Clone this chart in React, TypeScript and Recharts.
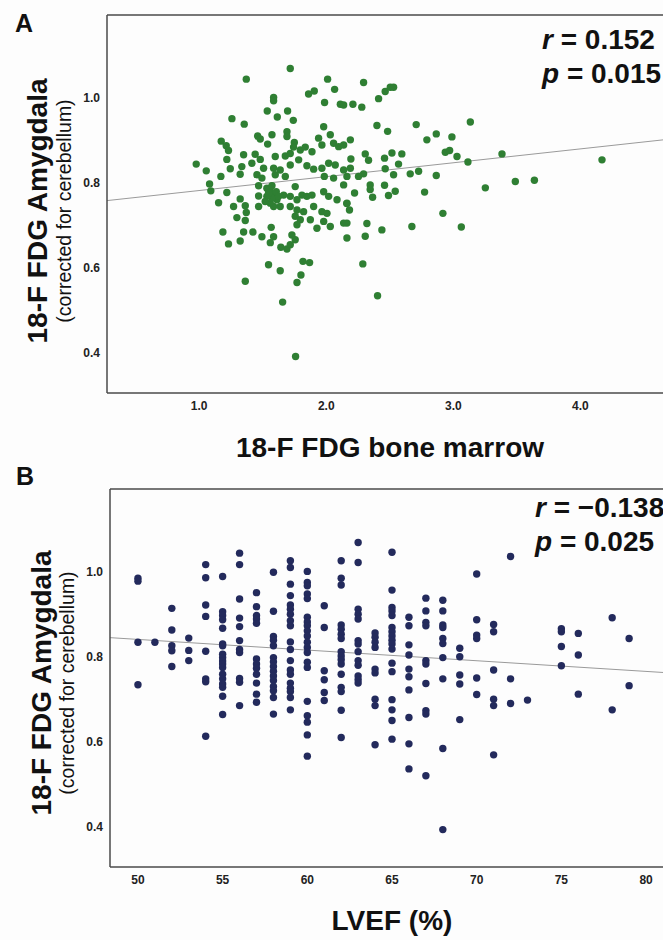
import React from "react";
import { ScatterChart, Scatter, XAxis, YAxis, ReferenceLine } from "recharts";

// ---------- Panel A data: 18-F FDG bone marrow (x) vs amygdala (y) ----------
const boneMarrowA: number[] = [
  1.717, 1.371, 2.011, 2.066, 1.861, 1.906, 1.586, 1.586, 1.987, 2.111, 2.137, 1.536, 1.696, 1.615, 1.741, 1.258,
  1.355, 1.691, 1.691, 1.573, 1.46, 1.481, 1.539, 1.174, 1.213, 1.231, 1.98, 1.94, 2.032, 1.966, 2.058, 2.098,
  2.137, 2.19, 1.749, 1.743, 1.796, 1.835, 1.888, 1.678, 1.717, 1.35, 1.441, 1.481, 1.599, 1.218, 0.977, 1.056,
  1.171, 1.245, 1.415, 1.336, 1.323, 1.507, 1.455, 1.494, 1.638, 1.586, 1.599, 1.678, 1.717, 1.783, 1.848, 1.901,
  1.966, 2.019, 2.071, 2.137, 2.19, 1.985, 2.058, 2.163, 1.082, 1.092, 1.218, 1.153, 1.323, 1.271, 1.363, 1.371,
  1.297, 1.363, 1.468, 1.468, 1.468, 1.533, 1.56, 1.586, 1.56, 1.612, 1.665, 1.638, 1.756, 1.717, 1.77, 1.809,
  1.848, 1.888, 1.717, 1.77, 1.822, 1.901, 1.98, 2.019, 2.085, 1.966, 2.006, 2.137, 2.163, 2.163, 2.163, 1.756,
  1.796, 1.77, 1.875, 1.927, 1.98, 2.032, 2.137, 1.187, 1.231, 1.323, 1.35, 1.423, 1.494, 1.567, 1.586, 1.56,
  1.643, 1.691, 1.73, 1.756, 1.717, 1.546, 1.638, 1.817, 1.869, 1.801, 1.77, 1.363, 1.657, 1.759,
  1.546, 1.573, 1.533, 1.607, 1.625, 1.52, 1.586, 1.546, 1.573,
  2.294, 2.464, 2.504, 2.53, 2.412, 2.21, 2.28, 2.399, 2.483, 2.708, 3.134, 2.792, 2.866, 2.989, 2.937, 2.971,
  3.029, 3.115, 3.383, 4.17, 2.307, 2.333, 2.194, 2.517, 2.595, 2.459, 2.464, 2.569, 2.53, 2.661, 2.727, 2.866,
  2.294, 2.254, 2.346, 2.346, 2.459, 2.543, 2.49, 2.365, 2.223, 2.774, 3.252, 3.488, 3.638, 2.918,
  2.162, 2.183, 3.063, 2.32, 2.438, 2.674, 2.307, 2.288, 2.404,
];
const amygdalaA: number[] = [
  1.069, 1.044, 1.044, 1.02, 1.009, 1.016, 1.001, 0.993, 0.989, 0.985, 0.983, 0.969, 0.969, 0.955, 0.947, 0.951,
  0.938, 0.92, 0.909, 0.913, 0.91, 0.903, 0.891, 0.898, 0.887, 0.876, 0.932, 0.905, 0.913, 0.889, 0.893, 0.885,
  0.889, 0.901, 0.895, 0.884, 0.877, 0.884, 0.873, 0.863, 0.869, 0.866, 0.867, 0.855, 0.862, 0.855, 0.844, 0.828,
  0.815, 0.833, 0.846, 0.838, 0.82, 0.834, 0.819, 0.811, 0.83, 0.834, 0.819, 0.815, 0.842, 0.854, 0.84, 0.832,
  0.834, 0.846, 0.842, 0.83, 0.834, 0.815, 0.811, 0.815, 0.797, 0.781, 0.777, 0.753, 0.762, 0.744, 0.746, 0.73,
  0.718, 0.711, 0.793, 0.769, 0.744, 0.787, 0.779, 0.771, 0.752, 0.76, 0.771, 0.744, 0.791, 0.768, 0.76, 0.771,
  0.768, 0.771, 0.744, 0.736, 0.732, 0.744, 0.779, 0.768, 0.76, 0.732, 0.728, 0.795, 0.752, 0.705, 0.67, 0.721,
  0.713, 0.701, 0.713, 0.693, 0.709, 0.697, 0.705, 0.684, 0.656, 0.663, 0.684, 0.684, 0.673, 0.695, 0.673, 0.659,
  0.648, 0.644, 0.677, 0.666, 0.654, 0.607, 0.593, 0.615, 0.612, 0.583, 0.565, 0.568, 0.519, 0.391,
  0.783, 0.764, 0.768, 0.779, 0.768, 0.756, 0.744, 0.775, 0.793,
  1.036, 1.015, 1.025, 1.025, 0.998, 0.985, 0.978, 0.935, 0.921, 0.937, 0.943, 0.901, 0.915, 0.908, 0.872, 0.876,
  0.862, 0.849, 0.868, 0.854, 0.868, 0.853, 0.856, 0.87, 0.868, 0.858, 0.833, 0.844, 0.819, 0.821, 0.827, 0.817,
  0.821, 0.815, 0.795, 0.784, 0.794, 0.78, 0.77, 0.766, 0.776, 0.778, 0.788, 0.803, 0.806, 0.728,
  0.751, 0.736, 0.696, 0.704, 0.689, 0.697, 0.674, 0.609, 0.534,
];
const regressionA = [
  { x: 0.275, y: 0.758 },
  { x: 4.65, y: 0.901 },
];
const xTicksA = [1, 2, 3, 4];
const yTicks = [0.4, 0.6, 0.8, 1.0];

// ---------- Panel B data: LVEF (%) columns with amygdala values ----------
const lvefValues: number[] = [50, 51, 52, 53, 54, 55, 56, 57, 58, 59, 60, 61, 62, 63, 64, 65, 66, 67, 68, 69, 70, 71, 72, 73, 75, 76, 78, 79];
const amygdalaByLvef: number[][] = [
  [0.985, 0.978, 0.834, 0.734],
  [0.834],
  [0.914, 0.863, 0.826, 0.814, 0.777],
  [0.844, 0.815, 0.791],
  [1.017, 0.986, 0.922, 0.895, 0.813, 0.748, 0.741, 0.613],
  [0.989, 0.906, 0.897, 0.887, 0.867, 0.83, 0.826, 0.806, 0.798, 0.79, 0.783, 0.775, 0.759, 0.748, 0.736, 0.728, 0.707, 0.664],
  [1.044, 1.017, 0.936, 0.891, 0.871, 0.838, 0.817, 0.81, 0.749, 0.74, 0.685],
  [0.951, 0.918, 0.897, 0.889, 0.879, 0.795, 0.783, 0.773, 0.759, 0.738, 0.712, 0.693],
  [0.999, 0.907, 0.848, 0.839, 0.826, 0.798, 0.788, 0.777, 0.766, 0.755, 0.744, 0.73, 0.72, 0.704, 0.665],
  [1.026, 1.01, 0.971, 0.944, 0.922, 0.912, 0.9, 0.885, 0.873, 0.835, 0.817, 0.791, 0.769, 0.759, 0.738, 0.726, 0.718, 0.704, 0.675],
  [1.001, 0.975, 0.967, 0.948, 0.937, 0.893, 0.882, 0.873, 0.861, 0.849, 0.834, 0.822, 0.81, 0.787, 0.775, 0.695, 0.661, 0.646, 0.616, 0.566],
  [0.92, 0.869, 0.767, 0.746, 0.716, 0.697],
  [1.026, 0.985, 0.969, 0.875, 0.865, 0.853, 0.843, 0.812, 0.802, 0.793, 0.783, 0.759, 0.728, 0.718, 0.674, 0.61],
  [1.069, 1.022, 0.912, 0.9, 0.889, 0.838, 0.83, 0.812, 0.791, 0.78, 0.755, 0.746, 0.738],
  [0.856, 0.846, 0.834, 0.822, 0.771, 0.762, 0.7, 0.685, 0.593],
  [1.046, 0.957, 0.916, 0.908, 0.897, 0.869, 0.859, 0.849, 0.839, 0.83, 0.818, 0.785, 0.765, 0.699, 0.675, 0.65, 0.606],
  [0.893, 0.873, 0.828, 0.804, 0.771, 0.753, 0.722, 0.657, 0.595, 0.536],
  [0.938, 0.908, 0.881, 0.873, 0.791, 0.783, 0.737, 0.673, 0.665, 0.52],
  [0.933, 0.908, 0.875, 0.869, 0.843, 0.831, 0.798, 0.748, 0.584, 0.393],
  [0.82, 0.8, 0.757, 0.736, 0.652],
  [0.995, 0.887, 0.851, 0.843, 0.75, 0.711],
  [0.876, 0.859, 0.769, 0.7, 0.685, 0.569],
  [1.036, 0.748, 0.69],
  [0.698],
  [0.866, 0.859, 0.824, 0.779],
  [0.855, 0.804, 0.712],
  [0.892, 0.675],
  [0.843, 0.732],
];
const regressionB = [
  { x: 48.35, y: 0.845 },
  { x: 81, y: 0.763 },
];
const xTicksB = [50, 55, 60, 65, 70, 75, 80];

// ---------- Labels ----------
const yTitle = "18-F FDG Amygdala";
const ySubtitle = "(corrected for cerebellum)";
const xTitleA = "18-F FDG bone marrow";
const xTitleB = "LVEF (%)";
const statsA = { r: "0.152", p: "0.015" };
const statsB = { r: "\u22120.138", p: "0.025" };

// ---------- Build tables ----------
const dataA = boneMarrowA.map((x, i) => ({ x, y: amygdalaA[i] }));
const dataB = lvefValues.flatMap((x, i) => amygdalaByLvef[i].map((y) => ({ x, y })));

const FONT = "'Liberation Sans', Arial, Helvetica, sans-serif";
const GREEN = "#2f7f33";
const NAVY = "#232a5c";
const AXIS = "#4a4a4a";
const REG = "#9a9a9a";

const dot = (color: string) => (props: any) =>
  props.cx == null ? null : <circle cx={props.cx} cy={props.cy} r={3.7} fill={color} />;

const tickStyle = { fontFamily: FONT, fontSize: 12, fontWeight: 700, fill: "#222" };

function Panel(props: {
  data: { x: number; y: number }[];
  reg: { x: number; y: number }[];
  color: string;
  xDomain: [number, number];
  xTicks: number[];
  xFmt: (v: number) => string;
  top: number;
  height: number;
  plotTop: number;
  plotLeft: number;
  letter: string;
  letterPos: [number, number];
  stats: { r: string; p: string };
  statsX: number;
  statsY: number;
  xTitle: string;
  xTitleCenter: number;
  xTitleBaseline: number;
  yCenter: number;
  yLine1X: number;
  yLine2X: number;
}) {
  const yDomain: [number, number] = [0.305, 1.195];
  const plotHeight = 378;
  const xAxisHeight = props.height - props.plotTop - plotHeight;
  return (
    <div style={{ position: "absolute", left: 0, top: props.top }}>
      <ScatterChart
        width={663}
        height={props.height}
        margin={{ top: props.plotTop, right: 0, bottom: 0, left: 0 }}
      >
        <XAxis
          type="number"
          dataKey="x"
          domain={props.xDomain}
          ticks={props.xTicks}
          tickFormatter={props.xFmt}
          allowDataOverflow
          tickLine={false}
          tickSize={6}
          tickMargin={2}
          height={xAxisHeight}
          axisLine={{ stroke: AXIS, strokeWidth: 1.5 }}
          tick={tickStyle}
        />
        <YAxis
          type="number"
          dataKey="y"
          domain={yDomain}
          ticks={yTicks}
          tickFormatter={(v: number) => v.toFixed(1)}
          allowDataOverflow
          width={props.plotLeft}
          tickLine={false}
          tickSize={5}
          tickMargin={2}
          axisLine={{ stroke: AXIS, strokeWidth: 1.5 }}
          tick={tickStyle}
        />
        <ReferenceLine y={yDomain[1]} stroke={AXIS} strokeWidth={1.5} ifOverflow="visible" />
        <ReferenceLine
          segment={props.reg}
          stroke={REG}
          strokeWidth={1}
          ifOverflow="visible"
        />
        <Scatter data={props.data} isAnimationActive={false} shape={dot(props.color)} />
        <text x={props.letterPos[0]} y={props.letterPos[1]} fontFamily={FONT} fontWeight={700} fontSize={25} fill="#111">
          {props.letter}
        </text>
        <text x={props.statsX} y={props.statsY} fontFamily={FONT} fontWeight={700} fontSize={28} fill="#111">
          <tspan fontStyle="italic">r</tspan>
          <tspan>{" = " + props.stats.r}</tspan>
        </text>
        <text x={props.statsX} y={props.statsY + 34} fontFamily={FONT} fontWeight={700} fontSize={28} fill="#111">
          <tspan fontStyle="italic">p</tspan>
          <tspan>{" = " + props.stats.p}</tspan>
        </text>
        <text
          x={props.xTitleCenter}
          y={props.xTitleBaseline}
          textAnchor="middle"
          fontFamily={FONT}
          fontWeight={700}
          fontSize={28}
          fill="#111"
        >
          {props.xTitle}
        </text>
        <text
          x={props.yLine1X}
          y={props.yCenter}
          textAnchor="middle"
          transform={`rotate(-90, ${props.yLine1X}, ${props.yCenter})`}
          fontFamily={FONT}
          fontWeight={700}
          fontSize={28}
          fill="#111"
        >
          {yTitle}
        </text>
        <text
          x={props.yLine2X}
          y={props.yCenter}
          textAnchor="middle"
          transform={`rotate(-90, ${props.yLine2X}, ${props.yCenter})`}
          fontFamily={FONT}
          fontSize={19.5}
          fill="#111"
        >
          {ySubtitle}
        </text>
      </ScatterChart>
    </div>
  );
}

export default function App() {
  return (
    <div
      style={{
        position: "absolute",
        left: 0,
        top: 0,
        width: 663,
        height: 940,
        background: "#fdfdfd",
        overflow: "hidden",
      }}
    >
      <Panel
        data={dataA}
        reg={regressionA}
        color={GREEN}
        xDomain={[0.275, 4.65]}
        xTicks={xTicksA}
        xFmt={(v) => v.toFixed(1)}
        top={0}
        height={470}
        plotTop={15}
        plotLeft={107}
        letter="A"
        letterPos={[15, 32]}
        stats={statsA}
        statsX={542}
        statsY={49}
        xTitle={xTitleA}
        xTitleCenter={390}
        xTitleBaseline={457}
        yCenter={211}
        yLine1X={47}
        yLine2X={71}
      />
      <Panel
        data={dataB}
        reg={regressionB}
        color={NAVY}
        xDomain={[48.35, 81]}
        xTicks={xTicksB}
        xFmt={(v) => String(v)}
        top={455}
        height={485}
        plotTop={34}
        plotLeft={110}
        letter="B"
        letterPos={[16, 30]}
        stats={statsB}
        statsX={535}
        statsY={62}
        xTitle={xTitleB}
        xTitleCenter={392}
        xTitleBaseline={475}
        yCenter={228}
        yLine1X={51}
        yLine2X={74}
      />
    </div>
  );
}
